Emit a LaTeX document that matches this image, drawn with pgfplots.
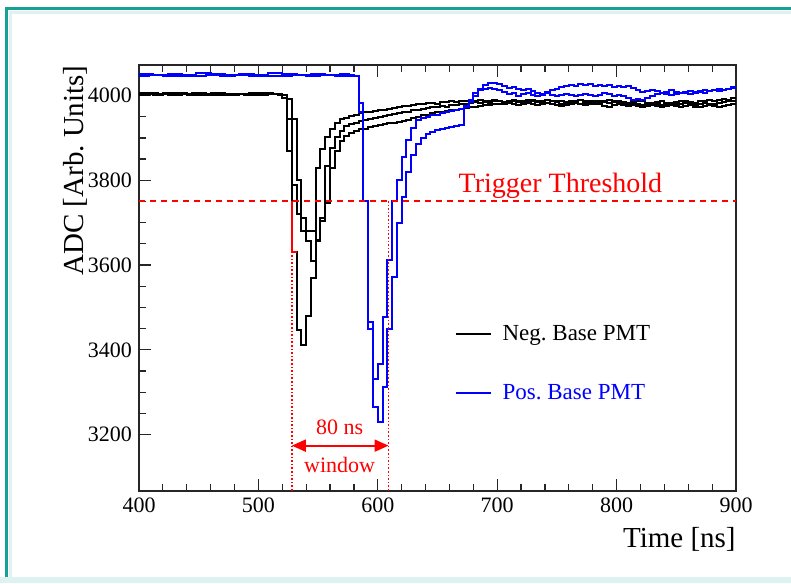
\documentclass[border=0pt]{standalone}
\usepackage{pgfplots}
\pgfplotsset{compat=1.18}
\usepackage{fontspec}
\setmainfont{Liberation Serif}
\usetikzlibrary{arrows.meta}
\definecolor{frameteal}{RGB}{22,160,150}
\definecolor{framelight}{RGB}{222,243,241}
\frenchspacing
\begin{document}
\begin{tikzpicture}
\useasboundingbox (0,0) rectangle (395.5pt,291.5pt);
\begin{scope}[x=0.5pt,y=0.5pt]
\fill[white] (0,0) rectangle (791,583);
\fill[framelight] (0,0) rectangle (791,6);
\draw[framelight, line width=1.5pt] (10,6) -- (10,570) -- (791,570);
\draw[frameteal, line width=1.5pt] (6,6) -- (6,574) -- (791,574);
\end{scope}
\begin{axis}[
  at={(69.5pt,46pt)}, anchor=south west,
  scale only axis, width=298.5pt, height=213pt,
  xmin=400, xmax=900, ymin=3067, ymax=4072,
  xtick={400,500,...,900}, ytick={3200,3400,3600,3800,4000},
  minor x tick num=4, minor y tick num=3,
  xtick pos=both, ytick pos=left,
  tick align=inside,
  major tick length=6pt, minor tick length=3.5pt,
  axis line style={black!85, line width=0.8pt},
  every tick/.style={black!85, line width=0.6pt},
  /pgf/number format/assume math mode=true,
  /pgf/number format/1000 sep={},
  ticklabel style={font=\fontsize{11}{13}\selectfont},
  xlabel={Time [ns]}, ylabel={ADC [Arb. Units]},
  label style={font=\fontsize{14.5}{17}\selectfont},
  xlabel style={at={(axis description cs:1,-0.085)}, anchor=north east, inner sep=0pt},
  ylabel style={at={(axis description cs:-0.085,1)}, anchor=south east, inner sep=0pt},
  legend style={draw=none, fill=none, at={(axis description cs:0.528,0.40)}, anchor=north west,
    font=\fontsize{11.5}{13.5}\selectfont, row sep=16.5pt, inner sep=0pt, cells={anchor=west},
    /tikz/every odd column/.append style={column sep=3.5pt}},
  legend image code/.code={\draw[#1, line width=1pt] (0pt,0pt) -- (17.5pt,0pt);},
  clip=true,
]
% Negative base PMT traces
\addplot[black, line width=1pt, const plot] coordinates {
(400,4004)(412,4002)(420,4005)(432,4003)(444,4005)(456,4002)(468,4004)(480,4003)(492,4005)(504,4003)(512,4004)(516,4001)(520,3995)(524,3944)(528,3632)(532,3447)(536,3411)(540,3479)(544,3569)(548,3830)(552,3873)(556,3901)(560,3920)(564,3936)(568,3944)(572,3948)(576,3952)(580,3955)(584,3958)(588,3960)(592,3962)(596,3964)(600,3966)(604,3966)(608,3969)(612,3971)(616,3973)(620,3975)(624,3976)(628,3978)(632,3980)(636,3979)(640,3982)(644,3983)(648,3981)(652,3985)(656,3984)(660,3986)(664,3984)(668,3986)(672,3988)(676,3985)(680,3987)(684,3989)(688,3986)(692,3988)(696,3990)(700,3987)(704,3985)(708,3988)(712,3990)(716,3987)(720,3984)(724,3986)(728,3989)(732,3987)(736,3985)(740,3983)(744,3986)(748,3988)(752,3986)(756,3983)(760,3985)(764,3988)(768,3990)(772,3987)(776,3985)(780,3983)(784,3986)(788,3984)(792,3982)(796,3985)(800,3987)(804,3984)(808,3982)(812,3985)(816,3988)(820,3986)(824,3983)(828,3981)(832,3984)(836,3986)(840,3983)(844,3981)(848,3984)(852,3986)(856,3988)(860,3985)(864,3983)(868,3986)(872,3988)(876,3990)(880,3987)(884,3989)(888,3992)(892,3990)(896,3993)(900,3993)};
\addlegendentry{Neg. Base PMT}
\addplot[black, line width=1pt, const plot, forget plot] coordinates {
(400,4002)(408,4004)(424,4001)(436,4004)(448,4002)(460,4005)(472,4002)(484,4004)(496,4002)(508,4004)(516,4002)(520,3993)(524,3870)(528,3790)(532,3720)(536,3680)(540,3656)(544,3609)(548,3660)(552,3703)(556,3834)(560,3877)(564,3901)(568,3916)(572,3928)(576,3932)(580,3936)(584,3940)(588,3942)(592,3945)(596,3947)(600,3950)(604,3952)(608,3955)(612,3957)(616,3959)(620,3960)(624,3962)(628,3965)(632,3967)(636,3968)(640,3970)(644,3972)(648,3973)(652,3975)(656,3974)(660,3977)(664,3978)(668,3980)(672,3979)(676,3982)(680,3984)(684,3983)(688,3985)(692,3983)(696,3986)(700,3988)(704,3985)(708,3983)(712,3986)(716,3984)(720,3987)(724,3989)(728,3986)(732,3984)(736,3987)(740,3989)(744,3986)(748,3984)(752,3981)(756,3984)(760,3986)(764,3983)(768,3981)(772,3983)(776,3986)(780,3988)(784,3985)(788,3987)(792,3989)(796,3986)(800,3983)(804,3981)(808,3979)(812,3982)(816,3980)(820,3978)(824,3981)(828,3983)(832,3980)(836,3978)(840,3980)(844,3983)(848,3981)(852,3979)(856,3982)(860,3980)(864,3978)(868,3980)(872,3983)(876,3981)(880,3979)(884,3982)(888,3984)(892,3986)(896,3988)(900,3988)};
\addplot[black, line width=1pt, const plot, forget plot] coordinates {
(400,4006)(416,4003)(428,4005)(440,4002)(452,4004)(464,4001)(476,4004)(488,4002)(500,4005)(512,4003)(520,4002)(524,3992)(528,3944)(532,3800)(536,3711)(540,3680)(544,3680)(548,3656)(552,3711)(556,3747)(560,3830)(564,3869)(568,3893)(572,3905)(576,3912)(580,3916)(584,3920)(588,3922)(592,3925)(596,3927)(600,3930)(604,3932)(608,3934)(612,3935)(616,3937)(620,3940)(624,3943)(628,3947)(632,3950)(636,3953)(640,3955)(644,3958)(648,3960)(652,3962)(656,3963)(660,3965)(664,3967)(668,3968)(672,3970)(676,3972)(680,3974)(684,3976)(688,3977)(692,3978)(696,3980)(700,3979)(704,3981)(708,3983)(712,3980)(716,3978)(720,3981)(724,3983)(728,3980)(732,3977)(736,3979)(740,3982)(744,3980)(748,3977)(752,3975)(756,3978)(760,3980)(764,3982)(768,3979)(772,3977)(776,3979)(780,3981)(784,3979)(788,3976)(792,3974)(796,3977)(800,3979)(804,3977)(808,3975)(812,3977)(816,3975)(820,3973)(824,3976)(828,3978)(832,3975)(836,3973)(840,3975)(844,3977)(848,3975)(852,3973)(856,3975)(860,3977)(864,3974)(868,3972)(872,3975)(876,3977)(880,3975)(884,3973)(888,3976)(892,3978)(896,3980)(900,3980)};
% Positive base PMT traces
\addplot[blue, line width=1pt, const plot] coordinates {
(400,4050)(412,4048)(424,4051)(436,4049)(448,4052)(460,4050)(472,4048)(484,4051)(496,4049)(508,4052)(520,4050)(532,4048)(544,4051)(556,4049)(568,4051)(576,4049)(580,4047)(584,3983)(588,3750)(592,3466)(596,3332)(600,3367)(604,3478)(608,3612)(612,3750)(616,3801)(620,3856)(624,3896)(628,3924)(632,3943)(636,3948)(640,3950)(644,3953)(648,3955)(652,3958)(656,3960)(660,3963)(664,3965)(668,3968)(672,3972)(676,3985)(680,4000)(684,4015)(688,4025)(692,4030)(696,4030)(700,4027)(704,4022)(708,4018)(712,4020)(716,4016)(720,4012)(724,4015)(728,4010)(732,4006)(736,4004)(740,4008)(744,4012)(748,4016)(752,4020)(756,4023)(760,4025)(764,4023)(768,4026)(772,4024)(776,4026)(780,4023)(784,4025)(788,4022)(792,4024)(796,4021)(800,4023)(804,4020)(808,4022)(812,4018)(816,4012)(820,4008)(824,4010)(828,4013)(832,4010)(836,4006)(840,4009)(844,4012)(848,4008)(852,4005)(856,4008)(860,4011)(864,4008)(868,4010)(872,4013)(876,4010)(880,4012)(884,4015)(888,4013)(892,4016)(896,4018)(900,4018)};
\addlegendentry{\textcolor{blue}{Pos. Base PMT}}
\addplot[blue, line width=1pt, const plot, forget plot] coordinates {
(400,4046)(408,4048)(420,4045)(432,4047)(444,4045)(456,4048)(468,4046)(480,4048)(492,4045)(504,4047)(516,4045)(528,4048)(540,4046)(552,4048)(564,4045)(576,4047)(580,4046)(584,3960)(588,3750)(592,3450)(596,3265)(600,3229)(604,3312)(608,3450)(612,3572)(616,3700)(620,3760)(624,3820)(628,3860)(632,3885)(636,3900)(640,3910)(644,3915)(648,3918)(652,3921)(656,3924)(660,3926)(664,3928)(668,3930)(672,3975)(676,3990)(680,4005)(684,4012)(688,4016)(692,4018)(696,4016)(700,4012)(704,4008)(708,4003)(712,4005)(716,4000)(720,4003)(724,4006)(728,4002)(732,3999)(736,4002)(740,4005)(744,4002)(748,3999)(752,4002)(756,4004)(760,4001)(764,3998)(768,4001)(772,4004)(776,4002)(780,3999)(784,4002)(788,4005)(792,4003)(796,4000)(800,4002)(804,3998)(808,3993)(812,3990)(816,3992)(820,3990)(824,3995)(828,4000)(832,4003)(836,4006)(840,4004)(844,4001)(848,4004)(852,4007)(856,4005)(860,4003)(864,4006)(868,4009)(872,4007)(876,4010)(880,4013)(884,4011)(888,4014)(892,4016)(896,4019)(900,4019)};
% trigger markings
\addplot[red, line width=1pt, forget plot] coordinates {(528,3750)(528,3632)(532,3632)};
\addplot[red, line width=1pt, dash pattern=on 3pt off 2.5pt, forget plot] coordinates {(400,3750)(900,3750)};
\addplot[red, line width=0.8pt, densely dotted, forget plot] coordinates {(528,3000)(528,3750)};
\addplot[red, line width=0.8pt, densely dotted, forget plot] coordinates {(609,3000)(609,3750)};
\draw[red, line width=1pt, {Triangle[length=7pt,width=6pt]}-{Triangle[length=7pt,width=6pt]}] (axis cs:528,3174) -- (axis cs:609,3174);
\node[red, font=\fontsize{14}{16}\selectfont, anchor=base] at (axis cs:753,3771) {Trigger Threshold};
\node[red, font=\fontsize{11}{13}\selectfont, anchor=base] at (axis cs:568,3201) {80 ns};
\node[red, font=\fontsize{11}{13}\selectfont, anchor=base] at (axis cs:568,3111) {window};
\end{axis}
\end{tikzpicture}
\end{document}
